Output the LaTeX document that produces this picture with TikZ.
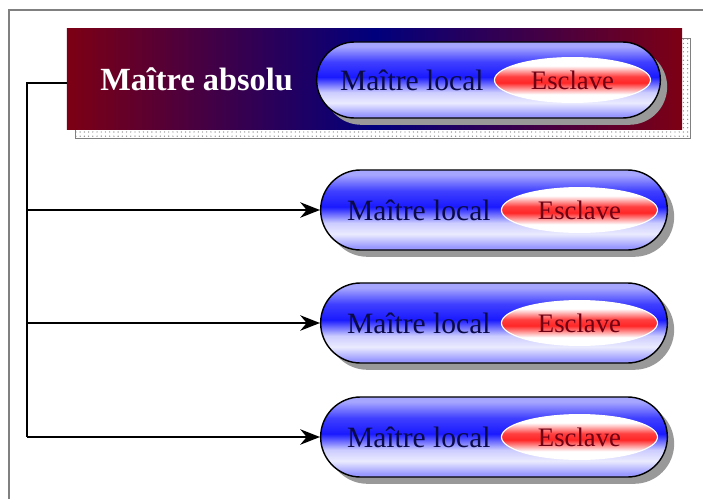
\documentclass[tikz,border=0pt]{standalone}
\usepackage{fontspec}
\setmainfont{Liberation Serif}
\usetikzlibrary{arrows.meta, positioning, shapes.misc, shapes.geometric, shadows, patterns}

\definecolor{bordeaux}{RGB}{125,0,20}
\definecolor{marine}{RGB}{0,0,125}
\definecolor{texteLocal}{RGB}{10,10,70}
\definecolor{texteEsclave}{RGB}{110,0,20}

\pgfdeclareverticalshading{pilule}{100bp}{color(0bp)=(blue!40!white); color(27bp)=(blue!40!white); color(35bp)=(blue!8!white); color(42bp)=(blue!20!white); color(52bp)=(blue!90!white); color(62bp)=(blue!75!white); color(72bp)=(blue!35!white); color(100bp)=(blue!35!white)}
\pgfdeclareverticalshading{oeuf}{100bp}{color(0bp)=(white); color(34bp)=(white); color(47bp)=(red!85!white); color(54bp)=(red!75!white); color(66bp)=(white); color(100bp)=(white)}

\tikzset{
	bandeau/.style={rectangle, minimum width=15.375cm, minimum height=2.5cm, left color=bordeaux, right color=bordeaux, middle color=marine},
	local/.style={rounded rectangle, draw=black, line width=1pt, minimum width=8.9cm, minimum height=2cm, shading=pilule, drop shadow={shadow xshift=0.17cm, shadow yshift=-0.17cm, fill=gray!80, opacity=1}},
	esclave/.style={ellipse, draw=white, thick, minimum width=3.9cm, minimum height=1.12cm, inner sep=0pt, shading=oeuf, text=texteEsclave, font=\fontsize{19}{19}\selectfont},
	nomlocal/.style={inner sep=0pt, text=texteLocal, font=\fontsize{21}{21}\selectfont},
	lien/.style={line width=1.2pt, -{Stealth[length=14pt, width=11pt]}}
}

\begin{document}
\begin{tikzpicture}[x=0.025cm, y=-0.025cm]
		\useasboundingbox (0,0) rectangle (703,499);
		\draw[gray, thick] (9,499) -- (9,10) -- (703,10);
		
		% bandeau du maitre absolu
		\fill[pattern=dots, pattern color=gray!90] (75,38) rectangle (690,138);
		\draw[gray] (75,38) rectangle (690,138);
		\node[bandeau] (absolu) at (374.5,79) {};
		\node[anchor=west, inner sep=0pt, text=white, font=\bfseries\fontsize{23}{23}\selectfont] (titre) at (100,79) {Maître absolu};
		
		\node[local, minimum width=8.825cm, minimum height=1.9cm] (m0) at (488.5,80) {};
		\node[esclave, anchor=east] (e0) at ([xshift=-0.25cm]m0.east) {Esclave};
		\node[nomlocal, left=0.25cm of e0] (n0) {Maître local};
		
		% maitres locaux
		\foreach \i/\y in {1/210, 2/323, 3/437} {
			\node[local] (m\i) at (494,\y) {};
			\node[esclave, anchor=east] (e\i) at ([xshift=-0.25cm]m\i.east) {Esclave};
			\node[nomlocal, left=0.25cm of e\i] (n\i) {Maître local};
		}
		
		\coordinate (coin) at (27,83);
		\draw[line width=1.2pt] (absolu.west |- coin) -- (coin) -- (coin |- m3.west);
		\foreach \i in {1,2,3}
			\draw[lien] (coin |- m\i.west) -- (m\i.west);
	\end{tikzpicture}
\end{document}
